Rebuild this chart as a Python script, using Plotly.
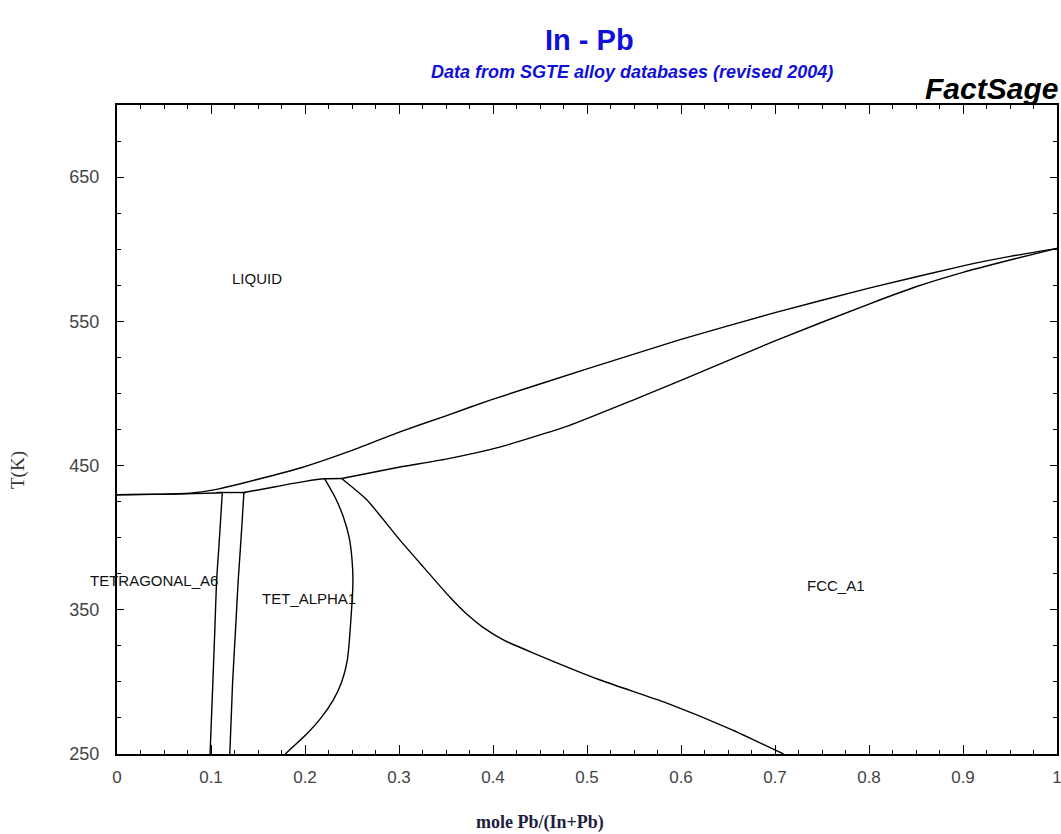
import plotly.graph_objects as go

# ---- data (mole fraction Pb, temperature K) ----
liq_x = [0.0, 0.05, 0.08, 0.106, 0.15, 0.195, 0.25, 0.301, 0.35, 0.397, 0.5, 0.6, 0.7, 0.8, 0.9, 0.95, 1.0]
liq_T = [429.8, 430.2, 431.0, 433.5, 440.5, 448.3, 460.5, 473.4, 484.5, 495.4, 517.0, 537.5, 556.0, 573.0, 588.5, 595.0, 600.6]

fcc_sol_x = [0.239, 0.301, 0.35, 0.407, 0.48, 0.549, 0.6, 0.7, 0.8, 0.85, 0.9, 0.95, 1.0]
fcc_sol_T = [441.0, 449.0, 454.5, 462.8, 477.5, 495.4, 509.0, 536.5, 562.0, 574.0, 584.0, 592.5, 600.6]

a6_sol_x = [0.0, 0.06, 0.106, 0.112]
a6_sol_T = [429.8, 430.2, 431.0, 431.3]

a6_solvus_x = [0.112, 0.110, 0.108, 0.106, 0.104, 0.102, 0.099]
a6_solvus_T = [431.3, 410.0, 390.0, 371.0, 335.0, 300.0, 250.0]

inv1_x = [0.106, 0.137]
inv1_T = [431.3, 431.3]

ta_solvus_x = [0.135, 0.133, 0.131, 0.129, 0.126, 0.123, 0.120]
ta_solvus_T = [431.3, 410.0, 390.0, 371.0, 335.0, 300.0, 250.0]

ta_sol_x = [0.135, 0.17, 0.2, 0.221, 0.239]
ta_sol_T = [431.3, 435.5, 439.0, 440.8, 441.0]

ta_arc_x = [0.221, 0.232, 0.241, 0.247, 0.250, 0.251, 0.250, 0.245, 0.239, 0.230, 0.217, 0.202, 0.179]
ta_arc_T = [440.8, 428.0, 414.0, 400.0, 385.0, 370.0, 355.0, 315.0, 300.0, 287.4, 275.0, 264.0, 250.0]

fcc_solvus_x = [0.239, 0.266, 0.301, 0.326, 0.354, 0.372, 0.389, 0.412, 0.443, 0.514, 0.585, 0.655, 0.709]
fcc_solvus_T = [441.0, 426.1, 398.3, 379.6, 358.8, 347.0, 338.0, 328.8, 320.0, 301.3, 285.3, 266.6, 250.0]

phase_labels = ["LIQUID", "TETRAGONAL_A6", "TET_ALPHA1", "FCC_A1"]
label_x = [0.149, 0.039, 0.204, 0.765]
label_T = [580, 370.6, 358, 367]

x_ticks = [0, 0.1, 0.2, 0.3, 0.4, 0.5, 0.6, 0.7, 0.8, 0.9, 1]
x_ticktext = ["0", "0.1", "0.2", "0.3", "0.4", "0.5", "0.6", "0.7", "0.8", "0.9", "1"]
y_ticks = [250, 350, 450, 550, 650]

curves = [
    (liq_x, liq_T), (fcc_sol_x, fcc_sol_T), (a6_sol_x, a6_sol_T),
    (a6_solvus_x, a6_solvus_T), (inv1_x, inv1_T), (ta_solvus_x, ta_solvus_T),
    (ta_sol_x, ta_sol_T), (ta_arc_x, ta_arc_T), (fcc_solvus_x, fcc_solvus_T),
]

fig = go.Figure()
for cx, cy in curves:
    fig.add_trace(go.Scatter(x=cx, y=cy, mode="lines",
                             line=dict(color="black", width=1.4, shape="spline", smoothing=0.5),
                             showlegend=False, hoverinfo="skip"))

for txt, lx, ly in zip(phase_labels, label_x, label_T):
    fig.add_annotation(x=lx, y=ly, xref="x", yref="y", text=txt, showarrow=False,
                       font=dict(family="Liberation Sans, Arial", size=15, color="#111111"))

W, H = 1061, 834
pl, pr, pt, pb = 117, 4, 105, 80

fig.update_layout(
    width=W, height=H,
    margin=dict(l=pl, r=pr, t=pt, b=pb, autoexpand=False),
    paper_bgcolor="white", plot_bgcolor="white",
    showlegend=False,
)

fig.update_xaxes(
    range=[0, 1], tickvals=x_ticks, ticktext=x_ticktext, automargin=False,
    ticklabeloverflow="allow",
    showgrid=False, zeroline=False, showline=True, linecolor="black", linewidth=2,
    mirror="ticks", ticks="inside", ticklen=9, tickwidth=1.2, tickcolor="black",
    minor=dict(dtick=0.025, tick0=0, ticks="inside", ticklen=4, tickcolor="black", tickwidth=1, showgrid=False),
    tickfont=dict(family="Liberation Sans Narrow, Arial Narrow, Liberation Sans", size=17, color="#444444"),
    ticklabelstandoff=7,
)
fig.update_yaxes(
    range=[250, 700], tickvals=y_ticks, automargin=False,
    ticklabeloverflow="allow",
    showgrid=False, zeroline=False, showline=True, linecolor="black", linewidth=2,
    mirror="ticks", ticks="inside", ticklen=7, tickwidth=1.2, tickcolor="black",
    minor=dict(dtick=25, tick0=250, ticks="inside", ticklen=4, tickcolor="black", tickwidth=1, showgrid=False),
    tickfont=dict(family="Liberation Sans, Arial", size=18, color="#444444"),
    ticklabelstandoff=12,
)

# titles and axis titles (placed by pixel position)
pw, ph = W - pl - pr, H - pt - pb
def px(xp):
    return (xp - pl) / pw
def py(yp):
    return (H - pb - yp) / ph

texts = [
    ("<b>In - Pb</b>", 589, 40, "center", 0, dict(family="Liberation Sans, Arial", size=29, color="#1010d8")),
    ("<b><i>Data from SGTE alloy databases (revised 2004)</i></b>", 632, 72, "center", 0,
     dict(family="Liberation Sans, Arial", size=18, color="#1010d8")),
    ("<b><i>FactSage</i></b>", 1060, 88, "right", 0, dict(family="Liberation Sans, Arial", size=30, color="black")),
    ("<b>mole Pb/(In+Pb)</b>", 540, 822, "center", 0,
     dict(family="Liberation Serif, Times New Roman", size=18, color="#1e1e40")),
    ("T(K)", 18, 470, "center", -90, dict(family="Liberation Serif, Times New Roman", size=19, color="#333333")),
]
for t, xp, yp, al, ang, f in texts:
    fig.add_annotation(text=t, showarrow=False, xref="paper", yref="paper", x=px(xp), y=py(yp),
                       xanchor=al, yanchor="middle", textangle=ang, font=f)

fig.write_html("out.html")
